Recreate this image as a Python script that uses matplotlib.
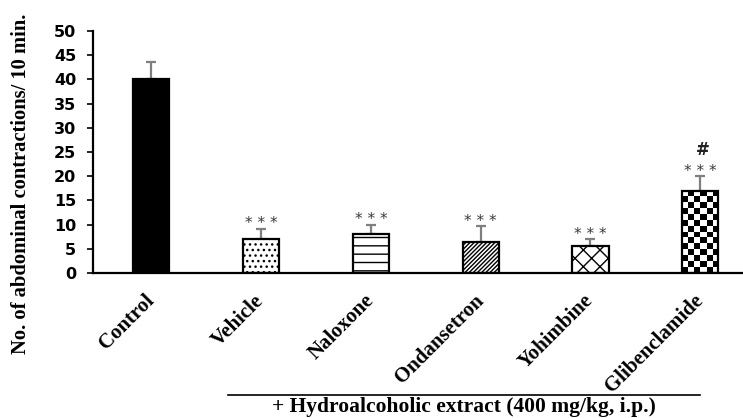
import numpy as np
import matplotlib
matplotlib.use("Agg")
import matplotlib.pyplot as plt

groups = ["Control", "Vehicle", "Naloxone", "Ondansetron", "Yohimbine", "Glibenclamide"]
means = [40.0, 7.1, 8.0, 6.4, 5.6, 17.0]
errs = [3.5, 2.0, 2.0, 3.3, 1.4, 3.0]
stars = ["", "* * *", "* * *", "* * *", "* * *", "* * *"]
hashes = ["", "", "", "", "", "#"]
hatches = [None, "...", "--", "////////", "xx", None]

fig = plt.figure(figsize=(7.43, 4.18), dpi=100)
ax = fig.add_axes([0.125, 0.347, 0.8735, 0.579])

x = np.arange(len(groups))
bars = ax.bar(x, means, width=0.33, color="white", edgecolor="black", linewidth=1.6, zorder=2)
bars[0].set_facecolor("black")
for b, h in zip(bars, hatches):
    if h:
        b.set_hatch(h)

ax.errorbar(x, means, yerr=[np.zeros(len(errs)), errs], fmt="none", ecolor="#7f7f7f",
            elinewidth=1.6, capsize=3.3, capthick=1.6, zorder=1)

ax.set_xlim(-0.533, 5.38)
ax.set_ylim(0, 50)
ax.set_yticks(range(0, 51, 5))

# checkerboard fill for the last bar
fig.canvas.draw()
b = bars[-1]
x0, y0 = b.get_x(), b.get_y()
w, hgt = b.get_width(), b.get_height()
p0 = ax.transData.transform((x0, y0))
p1 = ax.transData.transform((x0 + w, y0 + hgt))
ncols = 6
cell = (p1[0] - p0[0]) / ncols
nrows = int(round((p1[1] - p0[1]) / cell))
board = (np.add.outer(np.arange(nrows), np.arange(ncols)) % 2).astype(float)
im = ax.imshow(board, cmap="gray", extent=(x0, x0 + w, y0, y0 + hgt), aspect="auto",
               interpolation="nearest", zorder=1.5, origin="lower")
im.set_clip_path(b)
b.set_facecolor("none")

for xi, m, e, s, hs in zip(x, means, errs, stars, hashes):
    if s:
        ax.text(xi, m + e + 0.1, s, ha="center", va="baseline", fontsize=11, color="#3a3a3a")
    if hs:
        ax.text(xi + 0.02, m + e + 4.4, hs, ha="center", va="baseline", fontsize=12,
                fontweight="bold", color="#222222")

for s in ["top", "right"]:
    ax.spines[s].set_visible(False)
ax.spines["left"].set_linewidth(1.6)
ax.spines["bottom"].set_linewidth(1.6)
ax.tick_params(axis="x", length=0, pad=18)
ax.tick_params(axis="y", length=4, width=1.2, pad=8)
for lab in ax.get_yticklabels():
    lab.set_fontweight("bold")
    lab.set_fontsize(11.5)
ax.set_xticks(x)
ax.set_xticklabels(groups, rotation=45, ha="right", va="center", rotation_mode="anchor",
                   family="Liberation Serif", fontweight="bold", fontsize=15)

fig.text(0.028, 0.56, "No. of abdominal contractions/ 10 min.", rotation=90, ha="center",
         va="center", family="Liberation Serif", fontweight="bold", fontsize=14.8)

fig.add_artist(plt.Line2D([0.307, 0.942], [0.055, 0.055], transform=fig.transFigure,
                          color="black", linewidth=1.2))
fig.text(0.6245, 0.0145, "+ Hydroalcoholic extract (400 mg/kg, i.p.)", ha="center", va="baseline",
         family="Liberation Serif", fontweight="bold", fontsize=15.5)

fig.savefig("out.png", dpi=100)
